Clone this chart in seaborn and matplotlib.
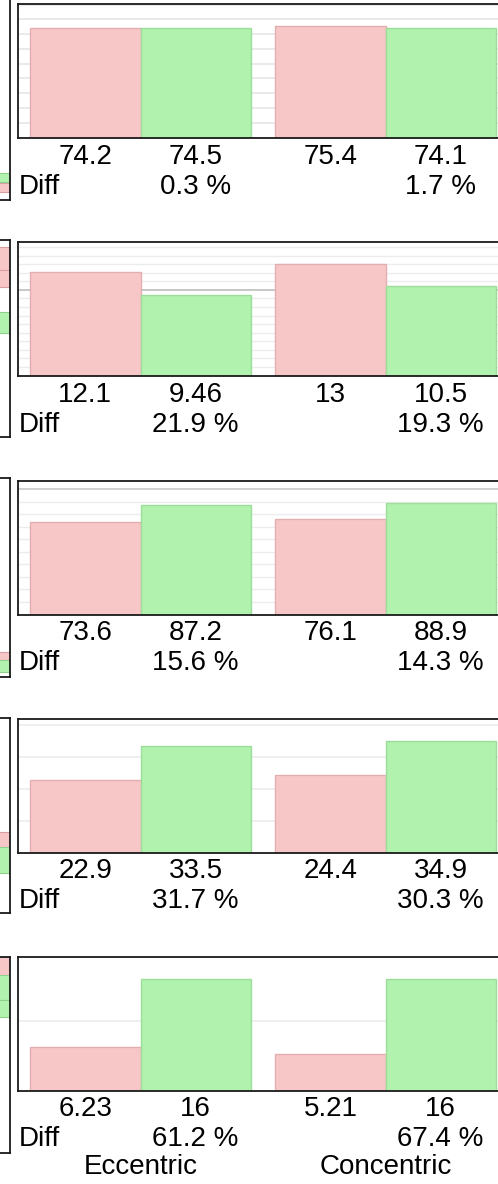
import numpy as np
import pandas as pd
import matplotlib
matplotlib.use("Agg")
import matplotlib.pyplot as plt
import seaborn as sns

sns.set_theme(style="white")
plt.rcParams["font.family"] = ["Liberation Sans", "DejaVu Sans"]

# ---------------- data ----------------
groups = ["Eccentric", "Concentric"]
series = ["Before", "After"]          # pink, green
pink_vals = [[74.2, 75.4], [12.1, 13.0], [73.6, 76.1], [22.9, 24.4], [6.23, 5.21]]
green_vals = [[74.5, 74.1], [9.46, 10.5], [87.2, 88.9], [33.5, 34.9], [16.0, 16.0]]
pink_labels = [["74.2", "75.4"], ["12.1", "13"], ["73.6", "76.1"], ["22.9", "24.4"], ["6.23", "5.21"]]
green_labels = [["74.5", "74.1"], ["9.46", "10.5"], ["87.2", "88.9"], ["33.5", "34.9"], ["16", "16"]]
diff_labels = [["0.3 %", "1.7 %"], ["21.9 %", "19.3 %"], ["15.6 %", "14.3 %"],
               ["31.7 %", "30.3 %"], ["61.2 %", "67.4 %"]]
major_step = [10, 10, 100, 10, 10]
minor_step = [None, 1, 10, None, None]
major_color = ["#e6e6e6", "#bdbdbd", "#c8c8c8", "#ececec", "#ececec"]

# fragments of the neighbouring (cropped) column, in pixel rows
frag_tops = [-5, 240, 478, 718, 957]
frag_bottoms = [200, 437, 677, 913, 1153]
frag_pink = [[(183, 192)], [(247, 270), (270, 287)], [(652, 660)], [(832, 847)], [(957, 975)]]
frag_green = [[(173, 182)], [(312, 333)], [(660, 672)], [(847, 873)], [(975, 1000), (1000, 1017)]]

PINK, PINK_E = "#F7C7C8", "#E3AEB0"
GREEN, GREEN_E = "#B2F2AF", "#9CDD99"

W, H, DPI = 498, 1184, 100
fig = plt.figure(figsize=(W / DPI, H / DPI), dpi=DPI)

ax_left, ax_w, ax_h = 18, 490, 133.5
tops = [4, 242, 481, 719, 957]
FS = 20

for i in range(5):
    top = tops[i]
    ax = fig.add_axes([ax_left / W, 1 - (top + ax_h) / H, ax_w / W, ax_h / H])
    df = pd.DataFrame({
        "group": groups * 2,
        "series": [series[0]] * 2 + [series[1]] * 2,
        "value": pink_vals[i] + green_vals[i],
    })
    sns.barplot(data=df, x="group", y="value", hue="series", order=groups,
                hue_order=series, palette=[PINK, GREEN], width=0.9,
                ax=ax, legend=False, linewidth=1, saturation=1, errorbar=None)
    for cont, ec in zip(ax.containers, [PINK_E, GREEN_E]):
        for b in cont:
            b.set_edgecolor(ec)
            b.set_linewidth(1)
    ymax = 1.2 * max(pink_vals[i] + green_vals[i])
    ax.set_ylim(0, ymax)
    ax.set_xlim(-0.5, 1.5)
    ax.set_yticks(np.arange(major_step[i], ymax, major_step[i]))
    if minor_step[i]:
        ax.set_yticks(np.arange(minor_step[i], ymax, minor_step[i]), minor=True)
        ax.grid(True, which="minor", axis="y", color="#ececec", lw=1)
    ax.grid(True, which="major", axis="y", color=major_color[i], lw=1.2)
    ax.set_axisbelow(True)
    ax.tick_params(axis="both", which="both", length=0, labelleft=False, labelbottom=False)
    ax.set_xlabel("")
    ax.set_ylabel("")
    for s in ax.spines.values():
        s.set_color("#1a1a1a")
        s.set_linewidth(1.3)
        s.set_visible(True)

    pink_bars = list(ax.containers[0])
    green_bars = list(ax.containers[1])
    for g in range(2):
        for bar, lab in ((pink_bars[g], pink_labels[i][g]), (green_bars[g], green_labels[i][g])):
            cx = bar.get_x() + bar.get_width() / 2
            ax.annotate(lab, xy=(cx, 0), xycoords=("data", "axes fraction"),
                        xytext=(0, -26), textcoords="offset pixels",
                        ha="center", va="baseline", fontsize=FS, color="black",
                        annotation_clip=False)
        gb = green_bars[g]
        cx = gb.get_x() + gb.get_width() / 2
        ax.annotate(diff_labels[i][g], xy=(cx, 0), xycoords=("data", "axes fraction"),
                    xytext=(0, -56), textcoords="offset pixels",
                    ha="center", va="baseline", fontsize=FS, color="black",
                    annotation_clip=False)
    ax.annotate("Diff", xy=(0, 0), xycoords="axes fraction", xytext=(1, -56),
                textcoords="offset pixels", ha="left", va="baseline",
                fontsize=FS, color="black", annotation_clip=False)
    if i == 4:
        for g in range(2):
            ax.annotate(groups[g], xy=(g, 0), xycoords=("data", "axes fraction"),
                        xytext=(0, -84), textcoords="offset pixels",
                        ha="center", va="baseline", fontsize=FS, color="black",
                        annotation_clip=False)

    # fragment of neighbouring column
    ft, fb = frag_tops[i], frag_bottoms[i]
    fax = fig.add_axes([(10 - 80) / W, 1 - fb / H, 80 / W, (fb - ft) / H])
    fax.set_xlim(0, 1)
    fax.set_ylim(fb, ft)
    for (a, b) in frag_pink[i]:
        fax.barh((a + b) / 2, 1, height=b - a, left=0, color=PINK, edgecolor="#d9a0a2", lw=0.8)
    for (a, b) in frag_green[i]:
        fax.barh((a + b) / 2, 1, height=b - a, left=0, color=GREEN, edgecolor="#8fd08c", lw=0.8)
    fax.set_xticks([])
    fax.set_yticks([])
    for s in fax.spines.values():
        s.set_color("#1a1a1a")
        s.set_linewidth(1.3)
    if i == 4:
        fax.set_xticks([0.92])
        fax.tick_params(axis="x", length=20, width=1.3, color="#1a1a1a",
                        labelbottom=False, direction="out")

fig.savefig("out.png", dpi=DPI)
